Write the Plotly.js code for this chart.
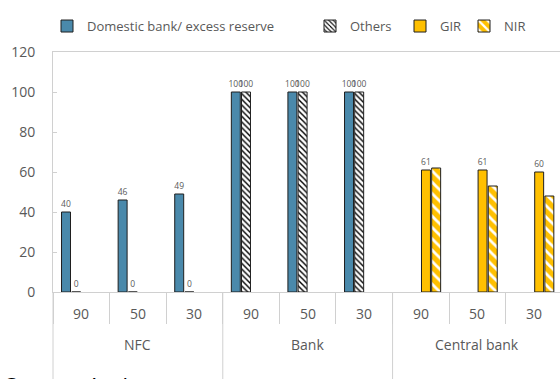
<!DOCTYPE html>
<html>
<head>
<meta charset="utf-8">
<script src="https://cdn.plot.ly/plotly-3.0.1.min.js"></script>
<style>html,body{margin:0;padding:0;background:#fff;}#chart{width:560px;height:379px;}</style>
</head>
<body>
<div id="chart"></div>
<script>
const groups = ["NFC","NFC","NFC","Bank","Bank","Bank","Central bank","Central bank","Central bank"];
const subs = ["90","50","30","90","50","30","90","50","30"];
const domestic = [40,46,49,100,100,100,null,null,null];
const others = [0,0,0,100,100,100,null,null,null];
const gir = [null,null,null,null,null,null,61,61,60];
const nir = [null,null,null,null,null,null,62,53,48];
const domesticLabels = ["40","46","49","100","100","100","","",""];
const othersLabels = ["0","0","0","100","100","100","","",""];
const girLabels = ["","","","","","","61","61","60"];

const x = [groups, subs];
const labelFont = {family:"Open Sans, sans-serif", size:8.5, color:"#595959"};
const outline = {color:"#1f1f1f", width:1};

const traces = [
  {type:"bar", name:"Domestic bank/ excess reserve", legend:"legend", x:x, y:domestic,
   marker:{color:"#4a89ab", line:outline},
   text:domesticLabels, textposition:"outside", textfont:labelFont, constraintext:"none", cliponaxis:false},
  {type:"bar", name:"Others", legend:"legend2", x:x, y:others,
   marker:{color:"#ffffff", line:outline, pattern:{shape:"\\", fgcolor:"#000000", bgcolor:"#ffffff", size:4, solidity:0.35}},
   text:othersLabels, textposition:"outside", textfont:labelFont, constraintext:"none", cliponaxis:false},
  {type:"bar", name:"GIR", legend:"legend3", x:x, y:gir,
   marker:{color:"#ffc000", line:outline},
   text:girLabels, textposition:"outside", textfont:labelFont, constraintext:"none", cliponaxis:false},
  {type:"bar", name:"NIR", legend:"legend4", x:x, y:nir,
   marker:{color:"#ffc000", line:outline, pattern:{shape:"\\", fgcolor:"#ffffff", bgcolor:"#ffc000", size:8, solidity:0.35}}}
];

// plot area: 53px .. 560px wide (507px), 52px .. 292px high (240px)
const px = v => (v - 53) / 507;
const legendBase = {orientation:"h", xanchor:"left", y:1.108, yanchor:"middle",
                    font:{size:13, color:"#595959"}, bgcolor:"rgba(0,0,0,0)"};
const gridCol = "#d0d0d0";
const axisFont = {family:"Open Sans, sans-serif", size:14, color:"#595959"};

// category-axis labels (two levels) and group dividers, built from the arrays
const annotations = [];
subs.forEach((s, i) => {
  annotations.push({text:s, xref:"x", yref:"paper", x:i, y:-0.089, xanchor:"center", yanchor:"middle",
                    showarrow:false, font:axisFont});
});
const shapes = [{type:"line", xref:"paper", yref:"paper", x0:0, x1:0, y0:0, y1:-0.4, line:{color:gridCol, width:1}}];
const uniqueGroups = [...new Set(groups)];
uniqueGroups.forEach(g => {
  const first = groups.indexOf(g), last = groups.lastIndexOf(g);
  annotations.push({text:g, xref:"x", yref:"paper", x:(first + last) / 2, y:-0.218, xanchor:"center", yanchor:"middle",
                    showarrow:false, font:axisFont});
  if (first > 0) {
    shapes.push({type:"line", xref:"x", yref:"paper", x0:first - 0.5, x1:first - 0.5, y0:0, y1:-0.4,
                 line:{color:gridCol, width:1}});
  }
});
annotations.push({text:"Source: Authors", xref:"paper", yref:"paper", x:px(3), y:-0.318, xanchor:"left", yanchor:"top",
                  showarrow:false, font:{family:"Open Sans, sans-serif", size:22, color:"#000000"}});

const layout = {
  width:560, height:379,
  margin:{l:53, r:0, t:52, b:87},
  paper_bgcolor:"#ffffff", plot_bgcolor:"#ffffff",
  font:{family:"Open Sans, sans-serif", color:"#595959", size:14},
  barmode:"group", bargap:0.28, bargroupgap:0.12,
  showlegend:true,
  legend:Object.assign({}, legendBase, {x:px(47)}),
  legend2:Object.assign({}, legendBase, {x:px(310)}),
  legend3:Object.assign({}, legendBase, {x:px(400)}),
  legend4:Object.assign({}, legendBase, {x:px(464)}),
  xaxis:{type:"multicategory", range:[-0.5, 8.458], showline:true, linecolor:gridCol, linewidth:1, mirror:true,
         ticks:"outside", ticklen:31, tickcolor:gridCol, showgrid:false, showticklabels:false,
         showdividers:false},
  yaxis:{range:[0,120], dtick:20, showgrid:false, zeroline:false, showline:true, linecolor:gridCol, linewidth:1,
         ticks:"inside", ticklen:4, tickcolor:gridCol, ticklabelstandoff:14,
         tickfont:axisFont},
  shapes:shapes,
  annotations:annotations
};

Plotly.newPlot("chart", traces, layout, {displayModeBar:false, staticPlot:true});
</script>
</body>
</html>
